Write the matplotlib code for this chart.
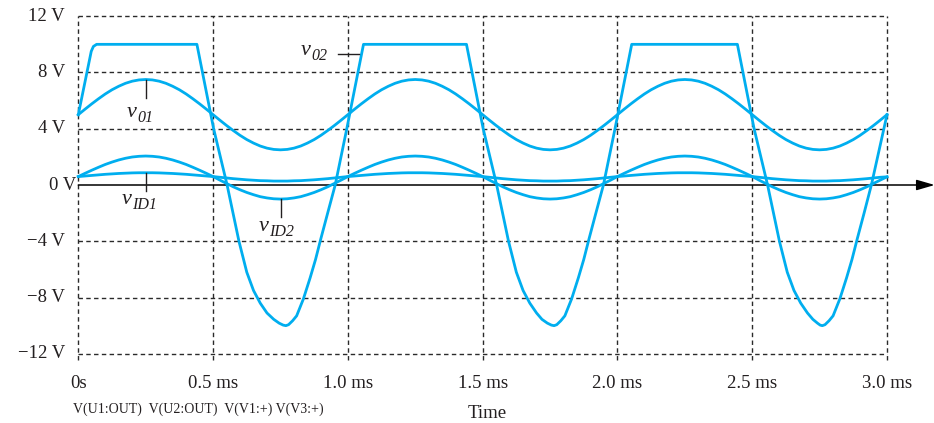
import matplotlib
matplotlib.use("Agg")
import matplotlib.pyplot as plt

plt.rcParams['font.family'] = ['Liberation Serif', 'DejaVu Serif']
plt.rcParams['lines.scale_dashes'] = False

# ---------------- data ----------------
# time grid for the smooth traces (ms)
t_smooth = [round(0.025 * i, 3) for i in range(121)]

v_o1_period = [5.0, 5.39, 5.77, 6.13, 6.47, 6.77, 7.02, 7.23, 7.38, 7.47,
               7.5, 7.47, 7.38, 7.23, 7.02, 6.77, 6.47, 6.13, 5.77, 5.39,
               5.0, 4.61, 4.23, 3.87, 3.53, 3.23, 2.98, 2.77, 2.62, 2.53,
               2.5, 2.53, 2.62, 2.77, 2.98, 3.23, 3.53, 3.87, 4.23, 4.61]
v_o1 = v_o1_period * 3 + [5.0]

v_id2_period = [0.6, 0.83, 1.05, 1.26, 1.46, 1.63, 1.78, 1.90, 1.99, 2.04,
                2.06, 2.04, 1.99, 1.90, 1.78, 1.63, 1.46, 1.26, 1.05, 0.83,
                0.6, 0.35, 0.11, -0.13, -0.34, -0.53, -0.69, -0.83, -0.92, -0.98,
                -1.0, -0.98, -0.92, -0.83, -0.69, -0.53, -0.34, -0.13, 0.11, 0.35]
v_id2 = v_id2_period * 3 + [0.58]

v_id1_period = [0.6, 0.64, 0.68, 0.72, 0.76, 0.79, 0.82, 0.84, 0.86, 0.87,
                0.87, 0.87, 0.86, 0.84, 0.82, 0.79, 0.76, 0.72, 0.68, 0.64,
                0.6, 0.55, 0.5, 0.45, 0.41, 0.37, 0.34, 0.31, 0.3, 0.28,
                0.28, 0.28, 0.3, 0.31, 0.34, 0.37, 0.41, 0.45, 0.5, 0.55]
v_id1 = v_id1_period * 3 + [0.58]

# v_o2 breakpoints (ms, V)
t_o2 = [0.0, 0.048, 0.056, 0.068,
        0.44, 0.502, 0.552, 0.596, 0.625, 0.65, 0.675, 0.70, 0.725, 0.745, 0.76, 0.77,
        0.78, 0.795, 0.81, 0.835, 0.86, 0.88, 0.90, 0.925, 0.953, 0.996, 1.058,
        1.44, 1.502, 1.552, 1.596, 1.625, 1.65, 1.675, 1.70, 1.72, 1.74, 1.755, 1.765,
        1.775, 1.79, 1.805, 1.83, 1.855, 1.875, 1.895, 1.92, 1.948, 1.991, 2.053,
        2.445, 2.507, 2.557, 2.601, 2.63, 2.655, 2.68, 2.705, 2.725, 2.742, 2.752, 2.76,
        2.77, 2.785, 2.80, 2.825, 2.85, 2.87, 2.89, 2.915, 2.942, 3.0]
v_o2 = [5.0, 9.5, 9.85, 10.0,
        10.0, 4.0, 0.0, -4.0, -6.2, -7.5, -8.4, -9.1, -9.55, -9.82, -9.96, -10.0,
        -9.93, -9.65, -9.3, -8.1, -6.6, -5.3, -3.8, -2.0, 0.0, 4.0, 10.0,
        10.0, 4.0, 0.0, -4.0, -6.2, -7.5, -8.4, -9.1, -9.55, -9.82, -9.96, -10.0,
        -9.93, -9.65, -9.3, -8.1, -6.6, -5.3, -3.8, -2.0, 0.0, 4.0, 10.0,
        10.0, 4.0, 0.0, -4.0, -6.2, -7.5, -8.4, -9.1, -9.55, -9.82, -9.96, -10.0,
        -9.93, -9.65, -9.3, -8.1, -6.6, -5.3, -3.8, -2.0, 0.0, 5.0]

x_ticks = [0, 0.5, 1.0, 1.5, 2.0, 2.5, 3.0]
x_labels = ['0s', '0.5 ms', '1.0 ms', '1.5 ms', '2.0 ms', '2.5 ms', '3.0 ms']
y_ticks = [12, 8, 4, 0, -4, -8, -12]
y_labels = ['12 V', '8 V', '4 V', '0 V', '\u22124 V', '\u22128 V', '\u221212 V']

trace_color = '#00AEEF'
grid_color = '#2a2a2a'
text_color = '#231F20'

# ---------------- figure ----------------
W, H = 934, 423
fig = plt.figure(figsize=(W / 100, H / 100), dpi=100)
x0, x1 = 78.3, 887.0
y_top, y_bot = 16.2, 353.8
ax = fig.add_axes([x0 / W, 1 - y_bot / H, (x1 - x0) / W, (y_bot - y_top) / H])
ax.set_xlim(0, 3)
ax.set_ylim(-12, 12)
for s in ax.spines.values():
    s.set_visible(False)

# grid
dash = [(0, (3.2, 2.4))]
grid_y = [y for y in y_ticks if y != 0]
ax.hlines(grid_y, 0, 3, colors=grid_color, linewidth=1.0,
          linestyles=dash, zorder=1, clip_on=False)
ax.vlines(x_ticks, -12.45, 12, colors=grid_color, linewidth=1.0,
          linestyles=dash, zorder=1, clip_on=False)

# zero axis with arrow
ax.annotate('', xy=(1.059, 0), xycoords=('axes fraction', 'data'),
            xytext=(0, 0), textcoords=('axes fraction', 'data'),
            arrowprops=dict(arrowstyle='-|>,head_length=0.55,head_width=0.16',
                            color='black', lw=1.1, mutation_scale=20,
                            shrinkA=0, shrinkB=0),
            annotation_clip=False, zorder=2)

# traces
lw = 2.0
for tt, vv in [(t_smooth, v_o1), (t_smooth, v_id2), (t_smooth, v_id1), (t_o2, v_o2)]:
    ax.plot(tt, vv, color=trace_color, lw=lw, zorder=3,
            solid_joinstyle='round', clip_on=False)

# x tick labels
ax.set_xticks(x_ticks)
ax.set_xticklabels(x_labels, fontsize=13.5)
ax.set_yticks([])
ax.tick_params(axis='x', length=0, pad=15, colors=text_color)

# y tick labels
for y, lab in zip(y_ticks, y_labels):
    off = -1.5 if y == 0 else -9.5
    ax.annotate(lab, xy=(0, y), xycoords=('axes fraction', 'data'),
                xytext=(off, 0), textcoords='offset points',
                ha='right', va='center', fontsize=13.5, color=text_color)


# curve labels: italic v with italic subscript
def vlabel(x, y, sub):
    ax.text(x, y, 'v', fontsize=16, style='italic', color=text_color,
            ha='left', va='baseline')
    ax.annotate(sub, xy=(x, y), xycoords='data', xytext=(7.6, -3.6),
                textcoords='offset points', fontsize=11.5, style='italic',
                color=text_color, ha='left', va='baseline')


ax.plot([0.25, 0.25], [7.45, 6.2], color=text_color, lw=1.0, zorder=4)
vlabel(0.181, 4.8, '01')
ax.plot([0.25, 0.25], [0.87, -0.4], color=text_color, lw=1.0, zorder=4)
vlabel(0.161, -1.35, 'ID1')
ax.plot([0.752, 0.752], [-1.0, -2.25], color=text_color, lw=1.0, zorder=4)
vlabel(0.668, -3.3, 'ID2')
ax.plot([0.964, 1.04], [9.3, 9.3], color=text_color, lw=1.0, zorder=4)
vlabel(0.826, 9.25, '02')

# bottom texts
fig.text(72.7 / W, 1 - 409 / H, 'V(U1:OUT)  V(U2:OUT)  V(V1:+) V(V3:+)',
         fontsize=10, ha='left', va='center', color=text_color)
fig.text(487 / W, 1 - 413 / H, 'Time', fontsize=13.5, ha='center', va='center',
         color=text_color)

fig.savefig('out.png', dpi=100)
